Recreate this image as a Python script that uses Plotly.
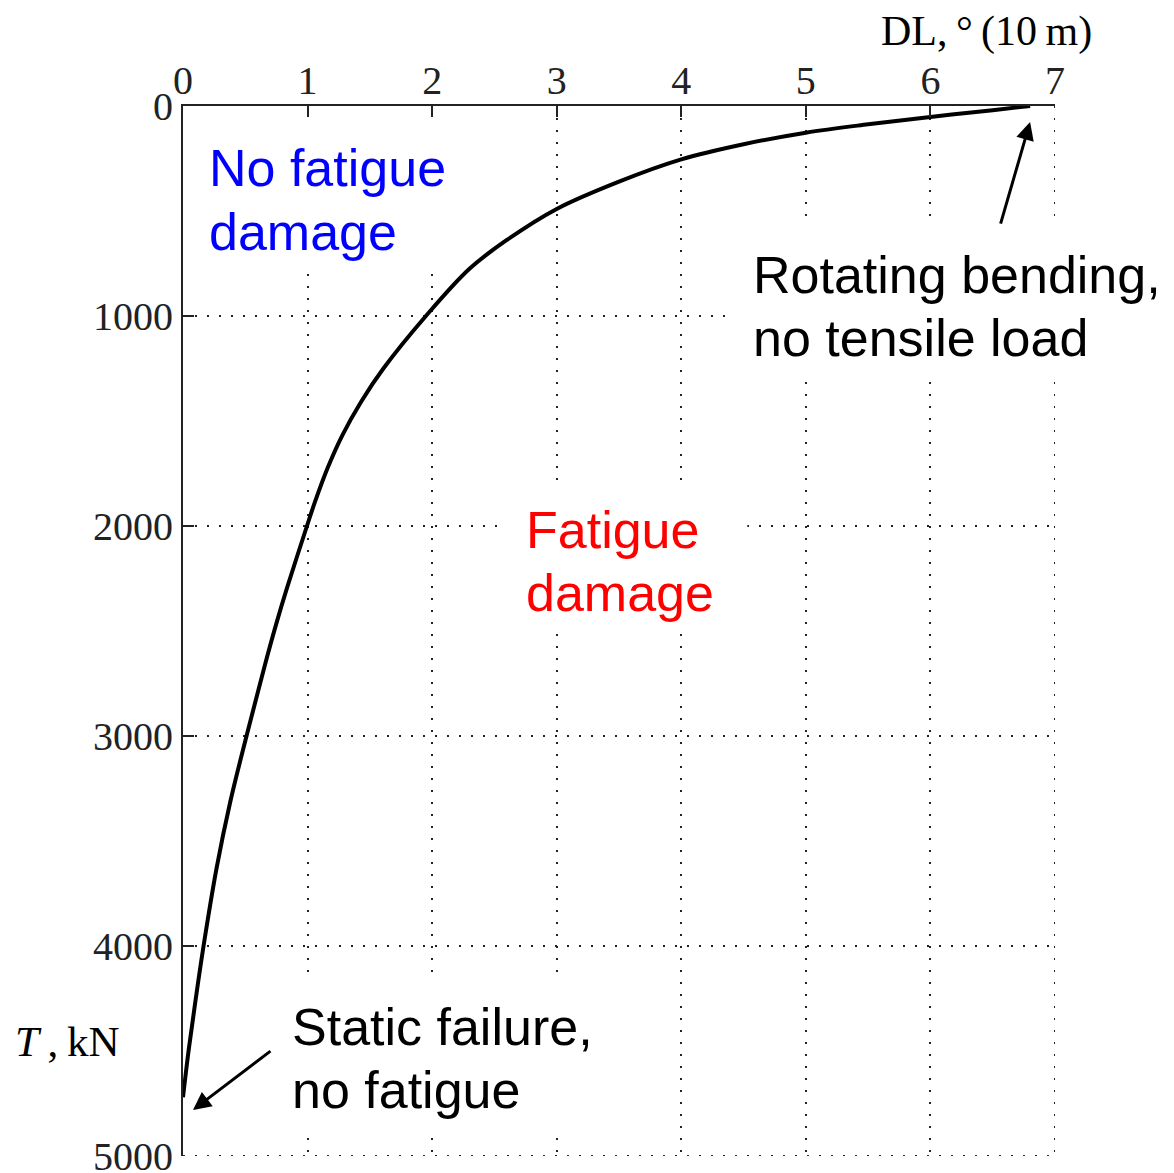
import plotly.graph_objects as go

# Curve data: dogleg severity DL (deg/10 m) vs tension T (kN)
T_kN = [0, 20, 52, 87, 127, 182, 254, 360, 490, 638, 775, 1000, 1249, 1408,
        1567, 1725, 1884, 2000, 2295, 2453, 2612, 2770, 3000, 3312, 3628, 4000,
        4261, 4498, 4720]
DL = [6.80, 6.50, 6.00, 5.50, 5.00, 4.50, 4.00, 3.50, 3.00, 2.60, 2.30, 1.95,
      1.61, 1.43, 1.28, 1.16, 1.06, 0.995, 0.835, 0.755, 0.68, 0.61, 0.51, 0.38,
      0.27, 0.165, 0.10, 0.045, 0.0]

x_ticks = [0, 1, 2, 3, 4, 5, 6, 7]
y_ticks = [0, 1000, 2000, 3000, 4000, 5000]

SERIF = "Liberation Serif, Times New Roman, serif"
SANS = "Liberation Sans, Arial, sans-serif"
GRID = "#222"
DASH = "2px,10px"

fig = go.Figure()
fig.add_trace(go.Scatter(x=DL, y=T_kN, mode="lines",
                         line=dict(color="black", width=4, shape="spline", smoothing=1.0),
                         showlegend=False, hoverinfo="skip"))

# dotted grid lines on the far edges (x = 7, T = 5000)
fig.add_shape(type="line", xref="x", yref="y", x0=7, x1=7, y0=0, y1=5000,
              line=dict(color=GRID, width=2, dash=DASH), layer="between")
fig.add_shape(type="line", xref="x", yref="y", x0=0, x1=7, y0=5000, y1=5000,
              line=dict(color=GRID, width=2, dash=DASH), layer="between")

# white masks hiding grid lines behind text (between grid and traces)
masks = [(0.02, 2.25, 10, 790), (2.54, 4.53, 1795, 2495),
         (4.37, 7.2, 567, 1305), (0.68, 3.6, 4171, 4910)]
for x0, x1, y0, y1 in masks:
    fig.add_shape(type="rect", xref="x", yref="y", x0=x0, x1=x1, y0=y0, y1=y1,
                  fillcolor="white", line=dict(width=0), layer="between")

fs = 52
labels = [
    (0.19, 295, "No fatigue", "#0000FF"),
    (0.19, 600, "damage", "#0000FF"),
    (2.74, 2019, "Fatigue", "#FF0000"),
    (2.74, 2319, "damage", "#FF0000"),
    (4.56, 805, "Rotating bending,", "black"),
    (4.56, 1105, "no tensile load", "black"),
    (0.855, 4386, "Static failure,", "black"),
    (0.855, 4686, "no fatigue", "black"),
]
for lx, ly, txt, col in labels:
    fig.add_annotation(x=lx, y=ly, xref="x", yref="y", text=txt,
                       showarrow=False, xanchor="left", yanchor="middle", align="left",
                       font=dict(family=SANS, size=fs, color=col))

# arrows
fig.add_annotation(x=6.80, y=76, xref="x", yref="y", ax=6.56, ay=567, axref="x", ayref="y",
                   text="", showarrow=True, arrowhead=2, arrowsize=1.2, arrowwidth=3,
                   arrowcolor="black", standoff=0, startstandoff=0)
fig.add_annotation(x=0.08, y=4781, xref="x", yref="y", ax=0.714, ay=4495, axref="x", ayref="y",
                   text="", showarrow=True, arrowhead=2, arrowsize=1.2, arrowwidth=3,
                   arrowcolor="black", standoff=0, startstandoff=0)

# axis titles
fig.add_annotation(x=0.921, y=1.0705, xref="paper", yref="paper", text="DL,\u2009°\u2009(10\u2009m)",
                   showarrow=False, xanchor="center", yanchor="middle",
                   font=dict(family=SERIF, size=42, color="black"))
fig.add_annotation(x=-0.133, y=0.1086, xref="paper", yref="paper", text="<i>T</i>\u2009,\u2009kN",
                   showarrow=False, xanchor="center", yanchor="middle",
                   font=dict(family=SERIF, size=43, color="black"))

axis_common = dict(showline=True, linecolor="#222", linewidth=2, mirror=False,
                   ticks="inside", ticklen=11, tickwidth=2, tickcolor="#222",
                   showgrid=True, gridcolor=GRID, gridwidth=2, griddash=DASH,
                   zeroline=False, automargin=False,
                   tickfont=dict(family=SERIF, size=40, color="#222"))

fig.update_xaxes(range=[0, 7], side="top", tickvals=x_ticks, ticklabelstandoff=-6,
                 ticktext=[str(v) for v in x_ticks], **axis_common)
fig.update_yaxes(range=[5000, 0], tickvals=y_ticks,
                 ticktext=[str(v) for v in y_ticks], **axis_common)

fig.update_layout(width=1174, height=1173, plot_bgcolor="white", paper_bgcolor="white",
                  margin=dict(l=175, r=127, t=98, b=25), showlegend=False)

fig.write_html("out.html")
